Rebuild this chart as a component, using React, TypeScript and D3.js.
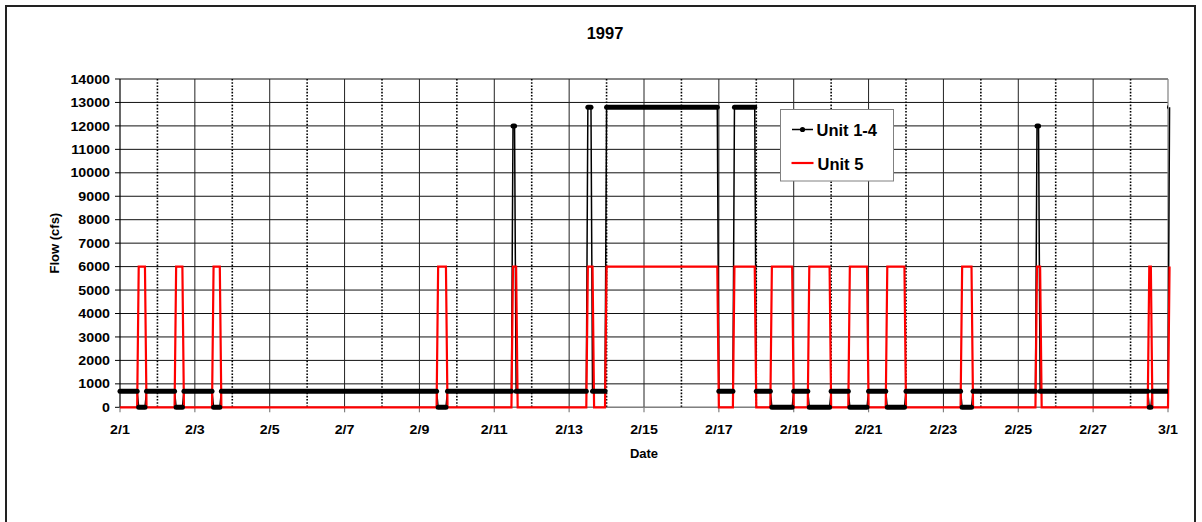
import React from 'react';
import * as d3 from 'd3';

// ---- data (hours from 2/1 00:00; value holds until the next change) ----
const xTickLabels = ['2/1', '2/3', '2/5', '2/7', '2/9', '2/11', '2/13', '2/15', '2/17', '2/19', '2/21', '2/23', '2/25', '2/27', '3/1'];
const yTickValues = [0, 1000, 2000, 3000, 4000, 5000, 6000, 7000, 8000, 9000, 10000, 11000, 12000, 13000, 14000];
const seriesNames = ['Unit 1-4', 'Unit 5'];

const unit14ChangeHours = [0, 12, 17, 36, 41, 60, 65, 204, 210, 252, 254, 300, 303, 312, 384, 394, 408, 418, 432, 442, 456, 468, 480, 492, 504, 540, 547, 588, 590, 660, 662, 673];
const unit14Values = [680, 0, 680, 0, 680, 0, 680, 0, 680, 12000, 680, 12800, 680, 12800, 680, 12800, 680, 0, 680, 0, 680, 0, 680, 0, 680, 0, 680, 12000, 680, 0, 680, 12800];

const unit5ChangeHours = [0, 12, 17, 36, 41, 60, 65, 204, 210, 252, 255, 300, 304, 312, 384, 394, 408, 418, 432, 442, 456, 468, 480, 492, 504, 540, 547, 588, 591, 660, 662, 673];
const unit5Values = [0, 6000, 0, 6000, 0, 6000, 0, 6000, 0, 6000, 0, 6000, 0, 6000, 0, 6000, 0, 6000, 0, 6000, 0, 6000, 0, 6000, 0, 6000, 0, 6000, 0, 6000, 0, 6000];

const lastHour = 673;
const domainHours = 672;

type Seg = { s: number; e: number; v: number };
function toSegments(hours: number[], values: number[]): Seg[] {
  return hours.map((h, i) => ({
    s: h,
    e: i < hours.length - 1 ? hours[i + 1] - 1 : lastHour,
    v: values[i],
  }));
}
function toPoints(segs: Seg[]): [number, number][] {
  const pts: [number, number][] = [];
  segs.forEach((g) => {
    pts.push([g.s, g.v]);
    if (g.e > g.s) pts.push([g.e, g.v]);
  });
  return pts;
}

const FONT = 'Arial, "Liberation Sans", Helvetica, sans-serif';

export default function App() {
  const W = 1202;
  const H = 522;
  const left = 120;
  const right = 1168;
  const top = 79;
  const bottom = 407.3;

  const x = d3.scaleLinear().domain([0, domainHours]).range([left, right]);
  const y = d3.scaleLinear().domain([0, 14000]).range([bottom, top]);

  const seg14 = toSegments(unit14ChangeHours, unit14Values);
  const seg5 = toSegments(unit5ChangeHours, unit5Values);
  const line = d3
    .line<[number, number]>()
    .x((d) => x(d[0]))
    .y((d) => y(d[1]));

  const dayTicks = d3.range(0, 29);

  return (
    <svg
      width={W}
      height={H}
      style={{ position: 'absolute', left: 0, top: 0, background: '#fff' }}
      fontFamily={FONT}
    >
      <defs>
        <clipPath id="plotclip">
          <rect x={left - 4} y={top - 4} width={right - left + 4} height={bottom - top + 8} />
        </clipPath>
      </defs>
      <rect x={0} y={0} width={W} height={H} fill="#fff" />
      {/* outer chart border */}
      <rect x={6} y={6} width={1189} height={600} fill="none" stroke="#222" strokeWidth={2} />

      {/* title */}
      <text x={605} y={39} textAnchor="middle" fontSize={16.5} fontWeight="bold">
        1997
      </text>

      {/* horizontal gridlines */}
      {yTickValues.map((v) => (
        <line key={'h' + v} x1={left} x2={right} y1={y(v)} y2={y(v)} stroke="#111" strokeWidth={1} />
      ))}
      {/* vertical gridlines */}
      {dayTicks.map((d) =>
        d === 0 || d === 28 ? null : d % 2 === 0 ? (
          <line key={'v' + d} x1={x(d * 24)} x2={x(d * 24)} y1={top} y2={bottom} stroke="#222" strokeWidth={1} />
        ) : (
          <line
            key={'v' + d}
            x1={x(d * 24)}
            x2={x(d * 24)}
            y1={top}
            y2={bottom}
            stroke="#000"
            strokeWidth={1.6}
            strokeDasharray="1.6,1.6"
          />
        )
      )}
      {/* plot right border + x axis */}
      <line x1={right} x2={right} y1={top} y2={bottom} stroke="#808080" strokeWidth={1.2} />
      <line x1={left} x2={right} y1={bottom} y2={bottom} stroke="#808080" strokeWidth={1.2} />
      <line x1={left} x2={left} y1={top} y2={bottom} stroke="#000" strokeWidth={1.2} />

      {/* y ticks + labels */}
      {yTickValues.map((v) => (
        <g key={'yt' + v}>
          <line x1={left - 5} x2={left} y1={y(v)} y2={y(v)} stroke="#000" strokeWidth={1} />
          <text
            transform={`translate(${110},${y(v) + 4.6}) scale(1.13,1)`}
            textAnchor="end"
            fontSize={12.6}
            fontWeight="bold"
          >
            {v}
          </text>
        </g>
      ))}
      {/* x ticks + labels */}
      {xTickLabels.map((lab, i) => {
        const xx = x(i * 48);
        return (
          <g key={'xt' + i}>
            <line x1={xx} x2={xx} y1={bottom} y2={bottom + 5} stroke="#808080" strokeWidth={1.2} />
            <text
              transform={`translate(${xx},${433.5}) scale(1.13,1)`}
              textAnchor="middle"
              fontSize={12.6}
              fontWeight="bold"
            >
              {lab}
            </text>
          </g>
        );
      })}

      {/* axis titles */}
      <text x={644} y={458} textAnchor="middle" fontSize={13} fontWeight="bold">
        Date
      </text>
      <text
        transform={`translate(${59},${(top + bottom) / 2}) rotate(-90)`}
        textAnchor="middle"
        fontSize={13}
        fontWeight="bold"
      >
        Flow (cfs)
      </text>

      {/* series lines: Unit 1-4 line, Unit 5 line, then Unit 1-4 markers */}
      <path d={line(toPoints(seg14)) || ''} fill="none" stroke="#000" strokeWidth={1.5} />
      <path d={line(toPoints(seg5)) || ''} fill="none" stroke="#ff0000" strokeWidth={2.2} strokeLinejoin="miter" />
      <g clipPath="url(#plotclip)">
        {seg14.map((g, i) => (
          <line
            key={'m' + i}
            x1={x(g.s)}
            x2={x(g.e) + 0.01}
            y1={y(g.v)}
            y2={y(g.v)}
            stroke="#000"
            strokeWidth={5}
            strokeLinecap="round"
          />
        ))}
      </g>

      {/* legend */}
      <rect x={780.5} y={109.5} width={113} height={71.5} fill="#fff" stroke="#808080" strokeWidth={1} />
      <line x1={792} x2={813} y1={129.5} y2={129.5} stroke="#000" strokeWidth={1.5} />
      <circle cx={802.5} cy={129.5} r={2.6} fill="#000" />
      <text x={816.5} y={135.5} fontSize={16.5} fontWeight="bold">
        {seriesNames[0]}
      </text>
      <line x1={791.5} x2={813.5} y1={163} y2={163} stroke="#ff0000" strokeWidth={2.2} />
      <text x={817.5} y={169.5} fontSize={16.5} fontWeight="bold">
        {seriesNames[1]}
      </text>
    </svg>
  );
}
